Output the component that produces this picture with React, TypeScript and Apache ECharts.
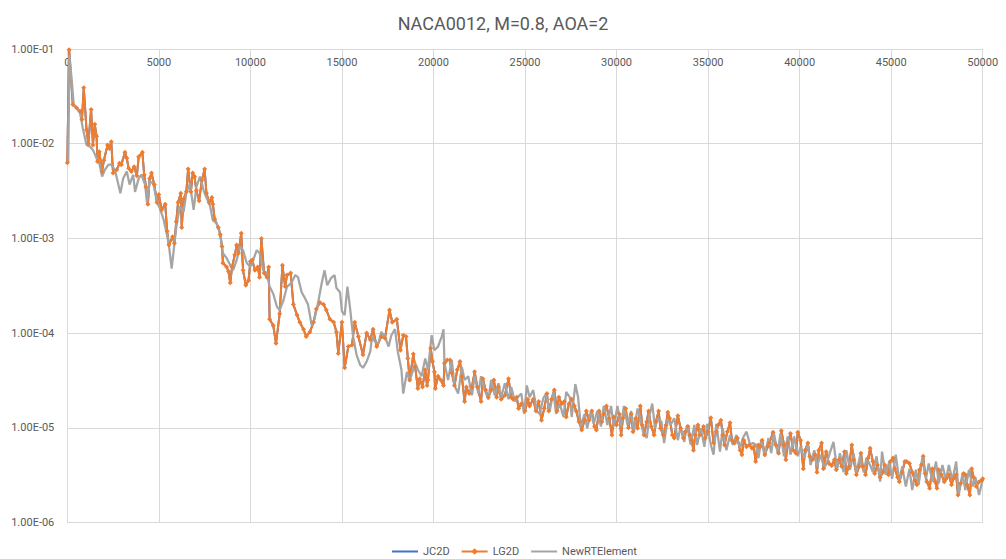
import React, { useEffect, useRef } from "react";
import * as echarts from "echarts";

const chartTitle = "NACA0012, M=0.8, AOA=2";
const seriesNames = ["JC2D", "LG2D", "NewRTElement"];
const seriesColors = ["#4472C4", "#ED7D31", "#A5A5A5"];
const xMin = 0;
const xMax = 50000;
const xStep = 5000;
const yMin = 1e-6;
const yMax = 1e-1;

// [iteration, residual]
const lg2d: [number, number][] = [
  [0, 6.3e-3], [100, 9.8e-2], [300, 2.6e-2], [500, 2.4e-2], [700, 2.2e-2], [800, 1.8e-2], [900, 3.9e-2],
  [1050, 1.4e-2], [1150, 1.0e-2], [1300, 2.3e-2], [1400, 9.7e-3], [1500, 1.6e-2], [1600, 1.2e-2],
  [1650, 6.5e-3], [1750, 8.2e-3], [1900, 5.1e-3], [2000, 6.7e-3], [2200, 9.7e-3], [2300, 8.9e-3],
  [2400, 1.05e-2], [2500, 4.9e-3], [2700, 5.3e-3], [2850, 6.2e-3], [2950, 6.0e-3], [3150, 8.1e-3],
  [3250, 7.0e-3], [3350, 5.5e-3], [3500, 5.1e-3], [3650, 5.7e-3], [3800, 4.6e-3], [3900, 7.3e-3],
  [4100, 8.1e-3], [4200, 4.7e-3], [4300, 3.5e-3], [4400, 2.3e-3], [4500, 4.3e-3], [4600, 4.9e-3],
  [4750, 3.7e-3], [4900, 2.4e-3], [5000, 2.9e-3], [5150, 2.0e-3], [5350, 2.3e-3], [5450, 1.2e-3],
  [5550, 8.5e-4], [5750, 1.04e-3], [5850, 8.9e-4], [5950, 1.5e-3], [6050, 2.4e-3], [6200, 3.0e-3],
  [6250, 1.3e-3], [6350, 2.6e-3], [6500, 3.1e-3], [6600, 5.4e-3], [6750, 3.1e-3], [6850, 4.9e-3],
  [6950, 4.5e-3], [7050, 3.2e-3], [7200, 2.5e-3], [7350, 4.1e-3], [7500, 5.4e-3], [7600, 3.0e-3],
  [7750, 2.4e-3], [7900, 2.7e-3], [7950, 2.3e-3], [8050, 1.6e-3], [8250, 1.3e-3], [8350, 1.1e-3],
  [8450, 8.2e-4], [8500, 5.5e-4], [8700, 5.0e-4], [8800, 4.5e-4], [8900, 3.4e-4], [9000, 5.0e-4],
  [9150, 6.7e-4], [9250, 8.5e-4], [9350, 7.0e-4], [9500, 1.13e-3], [9600, 4.6e-4], [9750, 3.2e-4],
  [9900, 3.6e-4], [10000, 5.7e-4], [10100, 5.9e-4], [10250, 4.6e-4], [10400, 5.0e-4], [10500, 3.9e-4],
  [10600, 1.0e-3], [10750, 4.3e-4], [10900, 3.9e-4], [11000, 5.0e-4], [11050, 1.4e-4], [11250, 1.2e-4],
  [11400, 7.8e-5], [11600, 1.6e-4], [11750, 5.2e-4], [11900, 3.1e-4], [12000, 4.1e-4], [12200, 4.3e-4],
  [12350, 2.0e-4], [12550, 1.55e-4], [12700, 1.3e-4], [12900, 1.1e-4], [13050, 9.2e-5], [13250, 1.03e-4],
  [13450, 1.3e-4], [13600, 1.8e-4], [13800, 2.1e-4], [14000, 2.0e-4], [14150, 1.75e-4], [14350, 1.4e-4],
  [14550, 1.3e-4], [14700, 1.03e-4], [14800, 6.1e-5], [15000, 1.3e-4], [15150, 4.3e-5], [15350, 7.2e-5],
  [15550, 7.5e-5], [15700, 1.3e-4], [15900, 9.2e-5], [16150, 5.9e-5], [16350, 1.0e-4], [16550, 8.5e-5],
  [16700, 1.1e-4], [16900, 7.2e-5], [17150, 9.2e-5], [17350, 8.8e-5], [17600, 1.75e-4], [17750, 1.3e-4],
  [18000, 1.4e-4], [18200, 6.6e-5], [18350, 9.5e-5], [18500, 9.2e-5], [18600, 5.4e-5], [18700, 3.2e-5],
  [18900, 6.0e-5], [19000, 4.4e-5], [19150, 2.6e-5], [19250, 3.3e-5], [19400, 2.7e-5], [19550, 4.1e-5],
  [19650, 2.8e-5], [19700, 3.2e-5], [19850, 6.9e-5], [19950, 5.0e-5], [20050, 3.9e-5], [20100, 2.6e-5],
  [20250, 3.5e-5], [20400, 3.2e-5], [20550, 2.8e-5], [20600, 4.8e-5], [20750, 5.2e-5], [20900, 5.2e-5],
  [21000, 3.8e-5], [21150, 2.8e-5], [21300, 4.1e-5], [21450, 5.0e-5], [21550, 3.5e-5], [21700, 1.9e-5],
  [21800, 2.7e-5], [21950, 2.3e-5], [22100, 2.7e-5], [22250, 3.9e-5], [22400, 2.7e-5], [22600, 1.9e-5],
  [22700, 3.3e-5], [22850, 2.5e-5], [23000, 2.1e-5], [23150, 2.5e-5], [23300, 3.2e-5], [23450, 2.1e-5],
  [23550, 2.7e-5], [23700, 2.0e-5], [23900, 2.2e-5], [24100, 3.3e-5], [24250, 2.1e-5], [24350, 2.0e-5],
  [24550, 2.1e-5], [24650, 1.6e-5], [24800, 1.8e-5], [25000, 1.5e-5], [25150, 2.0e-5], [25250, 1.7e-5],
  [25450, 2.0e-5], [25600, 1.5e-5], [25750, 1.9e-5], [25900, 1.2e-5], [26050, 1.6e-5], [26200, 2.3e-5],
  [26300, 1.5e-5], [26450, 2.0e-5], [26600, 2.5e-5], [26750, 1.5e-5], [26850, 2.1e-5], [27000, 1.8e-5],
  [27150, 1.9e-5], [27250, 1.3e-5], [27400, 1.8e-5], [27550, 2.0e-5], [27700, 1.7e-5], [27800, 1.5e-5],
  [27950, 1.16e-5], [28100, 9.5e-6], [28250, 1.2e-5], [28350, 1.5e-5], [28500, 1.2e-5], [28650, 1.5e-5],
  [28800, 1.03e-5], [28900, 9.5e-6], [29050, 1.5e-5], [29200, 1.16e-5], [29300, 1.4e-5], [29450, 1.7e-5],
  [29600, 1.26e-5], [29750, 8.4e-6], [29850, 1.3e-5], [30000, 1.07e-5], [30150, 1.4e-5], [30250, 8.4e-6],
  [30350, 1.26e-5], [30500, 1.6e-5], [30650, 1.0e-5], [30800, 1.4e-5], [30900, 9.1e-6], [31050, 1.26e-5],
  [31150, 9.9e-6], [31300, 1.7e-5], [31400, 1.07e-5], [31500, 8.4e-6], [31650, 1.16e-5], [31750, 1.5e-5],
  [31900, 1.03e-5], [32050, 8.4e-6], [32150, 1.16e-5], [32300, 1.5e-5], [32400, 9.9e-6], [32550, 8.4e-6],
  [32700, 1.07e-5], [32800, 1.46e-5], [32900, 1.26e-5], [33050, 8.4e-6], [33150, 7.8e-6], [33300, 1.16e-5],
  [33350, 1.34e-5], [33500, 9.9e-6], [33650, 7.8e-6], [33750, 9.1e-6], [33900, 1.03e-5], [34000, 8.4e-6],
  [34100, 7.4e-6], [34200, 5.8e-6], [34300, 8.4e-6], [34450, 1.07e-5], [34550, 8.4e-6], [34750, 1.03e-5],
  [34850, 7.8e-6], [35000, 9.1e-6], [35150, 1.28e-5], [35300, 6.9e-6], [35450, 9.1e-6], [35550, 1.07e-5],
  [35700, 1.2e-5], [35800, 8.4e-6], [35900, 6.6e-6], [36050, 9.1e-6], [36200, 1.13e-5], [36300, 7.4e-6],
  [36450, 6.9e-6], [36600, 7.8e-6], [36750, 5.8e-6], [36850, 5.2e-6], [36950, 7.4e-6], [37100, 6.3e-6],
  [37250, 6.6e-6], [37400, 6.1e-6], [37500, 6.3e-6], [37600, 4.4e-6], [37750, 6.6e-6], [37850, 6.3e-6],
  [37950, 7.4e-6], [38100, 5.2e-6], [38250, 6.3e-6], [38350, 6.9e-6], [38550, 9.0e-6], [38700, 6.6e-6],
  [38850, 5.4e-6], [39000, 9.3e-6], [39150, 6.6e-6], [39250, 4.6e-6], [39350, 6.9e-6], [39500, 8.7e-6],
  [39650, 5.8e-6], [39800, 5.4e-6], [39900, 9.0e-6], [40050, 7.4e-6], [40200, 3.7e-6], [40300, 5.8e-6],
  [40450, 6.9e-6], [40550, 5.0e-6], [40700, 4.6e-6], [40850, 5.2e-6], [40950, 3.4e-6], [41050, 5.8e-6],
  [41200, 6.9e-6], [41300, 3.7e-6], [41450, 5.6e-6], [41600, 4.2e-6], [41750, 4.0e-6], [41900, 4.6e-6],
  [42000, 3.6e-6], [42150, 4.6e-6], [42300, 3.9e-6], [42450, 5.6e-6], [42550, 3.3e-6], [42700, 3.9e-6],
  [42850, 6.6e-6], [42950, 4.6e-6], [43100, 3.2e-6], [43250, 3.9e-6], [43350, 5.4e-6], [43450, 3.9e-6],
  [43600, 3.2e-6], [43750, 4.8e-6], [43850, 6.1e-6], [44000, 4.4e-6], [44100, 3.3e-6], [44250, 4.05e-6],
  [44400, 3.0e-6], [44550, 3.4e-6], [44650, 4.05e-6], [44850, 3.2e-6], [44950, 4.4e-6], [45100, 4.8e-6],
  [45200, 3.7e-6], [45350, 3.0e-6], [45450, 2.7e-6], [45600, 3.4e-6], [45750, 4.4e-6], [45850, 4.4e-6],
  [46000, 4.2e-6], [46150, 3.4e-6], [46300, 2.8e-6], [46400, 2.5e-6], [46550, 3.6e-6], [46650, 4.05e-6],
  [46750, 5.0e-6], [46850, 3.3e-6], [46950, 2.7e-6], [47100, 2.3e-6], [47250, 3.7e-6], [47400, 2.7e-6],
  [47500, 2.3e-6], [47600, 3.6e-6], [47750, 3.2e-6], [47900, 2.7e-6], [48000, 2.9e-6], [48150, 3.2e-6],
  [48300, 2.5e-6], [48400, 2.9e-6], [48550, 3.2e-6], [48650, 1.95e-6], [48800, 2.6e-6], [48950, 3.3e-6],
  [49050, 3.2e-6], [49150, 2.5e-6], [49300, 1.95e-6], [49400, 3.7e-6], [49500, 3.0e-6], [49650, 2.4e-6],
  [49800, 2.7e-6], [49950, 2.8e-6], [50000, 2.9e-6],
];

// JC2D coincides with LG2D (hidden beneath it in the reference)
const jc2d: [number, number][] = lg2d;

const newRTElement: [number, number][] = [
  [0, 6.3e-3], [50, 6.3e-3], [120, 8.6e-2], [250, 4.5e-2], [350, 2.6e-2], [420, 2.5e-2], [700, 2.1e-2],
  [850, 1.45e-2], [1050, 9.7e-3], [1250, 9.3e-3], [1400, 8.6e-3], [1600, 7.0e-3], [1750, 6.2e-3],
  [1900, 4.5e-3], [2050, 5.3e-3], [2250, 6.0e-3], [2400, 6.0e-3], [2600, 5.3e-3], [2900, 3.0e-3],
  [3050, 4.3e-3], [3250, 5.1e-3], [3400, 3.7e-3], [3600, 4.7e-3], [3700, 3.1e-3], [3900, 4.3e-3],
  [4050, 4.7e-3], [4250, 3.7e-3], [4350, 2.4e-3], [4500, 4.0e-3], [4700, 3.8e-3], [4900, 2.4e-3],
  [5050, 2.1e-3], [5250, 1.6e-3], [5400, 1.2e-3], [5550, 8.5e-4], [5700, 4.8e-4], [5950, 1.3e-3],
  [6150, 2.2e-3], [6350, 1.9e-3], [6500, 3.0e-3], [6700, 3.8e-3], [6900, 2.0e-3], [7050, 3.5e-3],
  [7250, 4.5e-3], [7450, 3.2e-3], [7600, 2.7e-3], [7800, 2.2e-3], [7950, 1.55e-3], [8150, 1.45e-3],
  [8350, 1.13e-3], [8500, 7.0e-4], [8700, 6.2e-4], [8900, 5.2e-4], [9050, 4.6e-4], [9250, 5.9e-4],
  [9450, 8.2e-4], [9600, 7.5e-4], [9800, 5.5e-4], [10000, 5.0e-4], [10150, 5.9e-4], [10350, 7.5e-4],
  [10500, 7.0e-4], [10700, 4.6e-4], [10900, 4.3e-4], [11050, 3.1e-4], [11250, 2.6e-4], [11450, 1.9e-4],
  [11600, 1.75e-4], [11800, 2.2e-4], [12000, 3.1e-4], [12250, 3.4e-4], [12450, 4.1e-4], [12600, 3.9e-4],
  [12800, 2.7e-4], [12950, 2.4e-4], [13150, 2.0e-4], [13350, 1.2e-4], [13500, 1.4e-4], [13700, 2.1e-4],
  [13900, 3.4e-4], [14050, 4.6e-4], [14200, 3.2e-4], [14400, 3.8e-4], [14600, 4.1e-4], [14700, 3.0e-4],
  [14900, 2.7e-4], [15000, 1.7e-4], [15150, 1.55e-4], [15300, 3.1e-4], [15450, 1.8e-4], [15600, 9.5e-5],
  [15800, 5.9e-5], [16000, 4.6e-5], [16150, 4.3e-5], [16350, 5.0e-5], [16550, 6.4e-5], [16650, 9.2e-5],
  [16800, 8.1e-5], [17000, 7.8e-5], [17150, 1.03e-4], [17350, 9.2e-5], [17550, 7.2e-5], [17700, 9.5e-5],
  [17900, 1.1e-4], [18050, 6.4e-5], [18250, 4.1e-5], [18350, 2.3e-5], [18550, 3.9e-5], [18700, 3.1e-5],
  [19000, 4.8e-5], [19150, 4.1e-5], [19350, 3.5e-5], [19550, 5.4e-5], [19700, 4.1e-5], [19900, 9.5e-5],
  [20050, 6.6e-5], [20250, 7.2e-5], [20450, 9.2e-5], [20550, 1.1e-4], [20600, 4.8e-5], [20800, 3.2e-5],
  [21000, 5.2e-5], [21150, 2.8e-5], [21350, 2.3e-5], [21550, 4.4e-5], [21700, 3.2e-5], [21900, 3.5e-5],
  [22100, 2.2e-5], [22250, 3.5e-5], [22450, 2.3e-5], [22600, 3.5e-5], [22800, 2.5e-5], [23000, 2.0e-5],
  [23150, 3.2e-5], [23350, 2.2e-5], [23550, 2.95e-5], [23700, 2.1e-5], [23900, 2.95e-5], [24100, 2.0e-5],
  [24250, 2.7e-5], [24450, 1.9e-5], [24600, 2.1e-5], [24800, 2.3e-5], [24950, 1.4e-5], [25100, 2.8e-5],
  [25250, 2.1e-5], [25450, 2.5e-5], [25650, 1.5e-5], [25800, 1.4e-5], [26000, 2.05e-5], [26150, 2.3e-5],
  [26350, 1.5e-5], [26550, 2.4e-5], [26700, 1.4e-5], [26900, 1.8e-5], [27100, 1.3e-5], [27250, 2.4e-5],
  [27450, 2.1e-5], [27550, 1.3e-5], [27750, 2.9e-5], [27900, 2.1e-5], [28050, 1.03e-5], [28250, 1.4e-5],
  [28400, 9.9e-6], [28600, 1.5e-5], [28750, 1.1e-5], [28950, 1.5e-5], [29150, 1.03e-5], [29300, 1.7e-5],
  [29500, 1.07e-5], [29700, 1.7e-5], [29850, 1.03e-5], [30050, 1.7e-5], [30250, 1.03e-5], [30400, 1.7e-5],
  [30600, 1.07e-5], [30800, 1.5e-5], [30950, 9.1e-6], [31150, 1.6e-5], [31250, 1.35e-5], [31450, 9.1e-6],
  [31650, 7.8e-6], [31800, 1.35e-5], [31950, 1.8e-5], [32100, 9.9e-6], [32250, 1.26e-5], [32450, 1.16e-5],
  [32600, 6.9e-6], [32800, 1.26e-5], [32950, 1.07e-5], [33150, 1.26e-5], [33350, 7.4e-6], [33500, 1.03e-5],
  [33700, 7.1e-6], [33850, 1.07e-5], [34050, 6.6e-6], [34250, 1.07e-5], [34400, 6.6e-6], [34600, 9.9e-6],
  [34800, 6.3e-6], [34950, 1.1e-5], [35150, 6.6e-6], [35300, 5.2e-6], [35450, 1.1e-5], [35650, 5.6e-6],
  [35800, 9.9e-6], [36000, 5.8e-6], [36200, 8.4e-6], [36350, 6.6e-6], [36550, 8.4e-6], [36750, 6.1e-6],
  [36900, 7.8e-6], [37100, 9.1e-6], [37300, 6.6e-6], [37450, 6.9e-6], [37650, 6.6e-6], [37750, 4.8e-6],
  [37900, 7.4e-6], [38100, 5.0e-6], [38300, 7.8e-6], [38450, 5.4e-6], [38600, 8.7e-6], [38800, 5.4e-6],
  [38950, 8.7e-6], [39150, 5.0e-6], [39350, 8.1e-6], [39500, 5.2e-6], [39700, 8.1e-6], [39900, 5.0e-6],
  [40050, 6.3e-6], [40250, 4.8e-6], [40450, 6.6e-6], [40600, 4.05e-6], [40800, 5.8e-6], [40950, 3.9e-6],
  [41150, 5.2e-6], [41350, 3.7e-6], [41500, 4.4e-6], [41700, 5.8e-6], [41850, 7.1e-6], [42050, 3.6e-6],
  [42200, 5.4e-6], [42400, 3.4e-6], [42550, 5.8e-6], [42750, 3.6e-6], [42950, 5.4e-6], [43100, 3.4e-6],
  [43300, 5.0e-6], [43500, 3.4e-6], [43650, 4.8e-6], [43850, 4.05e-6], [44000, 3.4e-6], [44200, 5.0e-6],
  [44400, 2.7e-6], [44500, 5.6e-6], [44700, 3.2e-6], [44900, 4.4e-6], [45050, 2.9e-6], [45250, 5.2e-6],
  [45450, 2.7e-6], [45600, 3.9e-6], [45800, 2.4e-6], [46000, 3.7e-6], [46150, 2.2e-6], [46350, 3.6e-6],
  [46500, 2.5e-6], [46700, 4.8e-6], [46900, 2.9e-6], [47050, 4.2e-6], [47250, 2.7e-6], [47450, 4.4e-6],
  [47600, 2.6e-6], [47800, 4.05e-6], [48000, 2.8e-6], [48150, 4.05e-6], [48350, 2.8e-6], [48550, 4.4e-6],
  [48700, 2.0e-6], [48900, 3.3e-6], [49050, 2.2e-6], [49250, 3.6e-6], [49450, 2.4e-6], [49600, 3.0e-6],
  [49800, 1.95e-6], [49950, 2.6e-6], [50000, 2.8e-6],
];

const FONT = "Roboto, 'Liberation Sans', sans-serif";
const TEXT = "#595959";
const GRID = "#d9d9d9";

function sci(v: number): string {
  const e = Math.round(Math.log10(v));
  const m = v / Math.pow(10, e);
  return m.toFixed(2) + "E" + (e < 0 ? "-" : "+") + String(Math.abs(e)).padStart(2, "0");
}

export default function App() {
  const ref = useRef<HTMLDivElement>(null);
  useEffect(() => {
    if (!ref.current) return;
    const chart = echarts.init(ref.current, null, { renderer: "svg" });
    chart.setOption({
      animation: false,
      backgroundColor: "#ffffff",
      textStyle: { fontFamily: FONT },
      title: {
        text: chartTitle,
        left: "center",
        top: 9,
        textStyle: { fontFamily: FONT, fontSize: 18, fontWeight: "normal", color: TEXT },
      },
      legend: {
        left: 386,
        top: 541,
        itemWidth: 26,
        itemHeight: 8,
        itemGap: 11,
        data: [
          { name: seriesNames[0], itemStyle: { opacity: 0 } },
          { name: seriesNames[1] },
          { name: seriesNames[2], itemStyle: { opacity: 0 } },
        ],
        textStyle: { fontFamily: FONT, fontSize: 11, color: TEXT },
      },
      grid: { left: 67.3, top: 49, width: 915.4, height: 473.5, containLabel: false },
      xAxis: {
        type: "value",
        position: "top",
        min: xMin,
        max: xMax,
        interval: xStep,
        axisLine: { show: true, lineStyle: { color: GRID, width: 1 } },
        axisTick: { show: false },
        axisLabel: {
          inside: true,
          margin: 8,
          color: TEXT,
          fontSize: 11,
          fontFamily: FONT,
          formatter: (v: number) => String(v),
        },
        splitLine: { show: true, lineStyle: { color: GRID, width: 1 } },
      },
      yAxis: {
        type: "log",
        logBase: 10,
        min: yMin,
        max: yMax,
        axisLine: { show: false },
        axisTick: { show: false },
        axisLabel: { margin: 13, color: TEXT, fontSize: 11, fontFamily: FONT, formatter: sci },
        splitLine: { show: true, lineStyle: { color: GRID, width: 1 } },
      },
      series: [
        {
          name: seriesNames[0],
          type: "line",
          data: jc2d,
          symbol: "none",
          color: seriesColors[0],
          lineStyle: { color: seriesColors[0], width: 2 },
        },
        {
          name: seriesNames[1],
          type: "line",
          data: lg2d,
          symbol: "diamond",
          symbolSize: 5,
          showSymbol: true,
          color: seriesColors[1],
          itemStyle: { color: seriesColors[1] },
          lineStyle: { color: seriesColors[1], width: 2 },
        },
        {
          name: seriesNames[2],
          type: "line",
          data: newRTElement,
          symbol: "none",
          color: seriesColors[2],
          lineStyle: { color: seriesColors[2], width: 2.25 },
        },
      ],
    });
    return () => chart.dispose();
  }, []);
  return (
    <div
      ref={ref}
      style={{ position: "fixed", left: 0, top: 0, width: 1006, height: 559, background: "#ffffff" }}
    />
  );
}
